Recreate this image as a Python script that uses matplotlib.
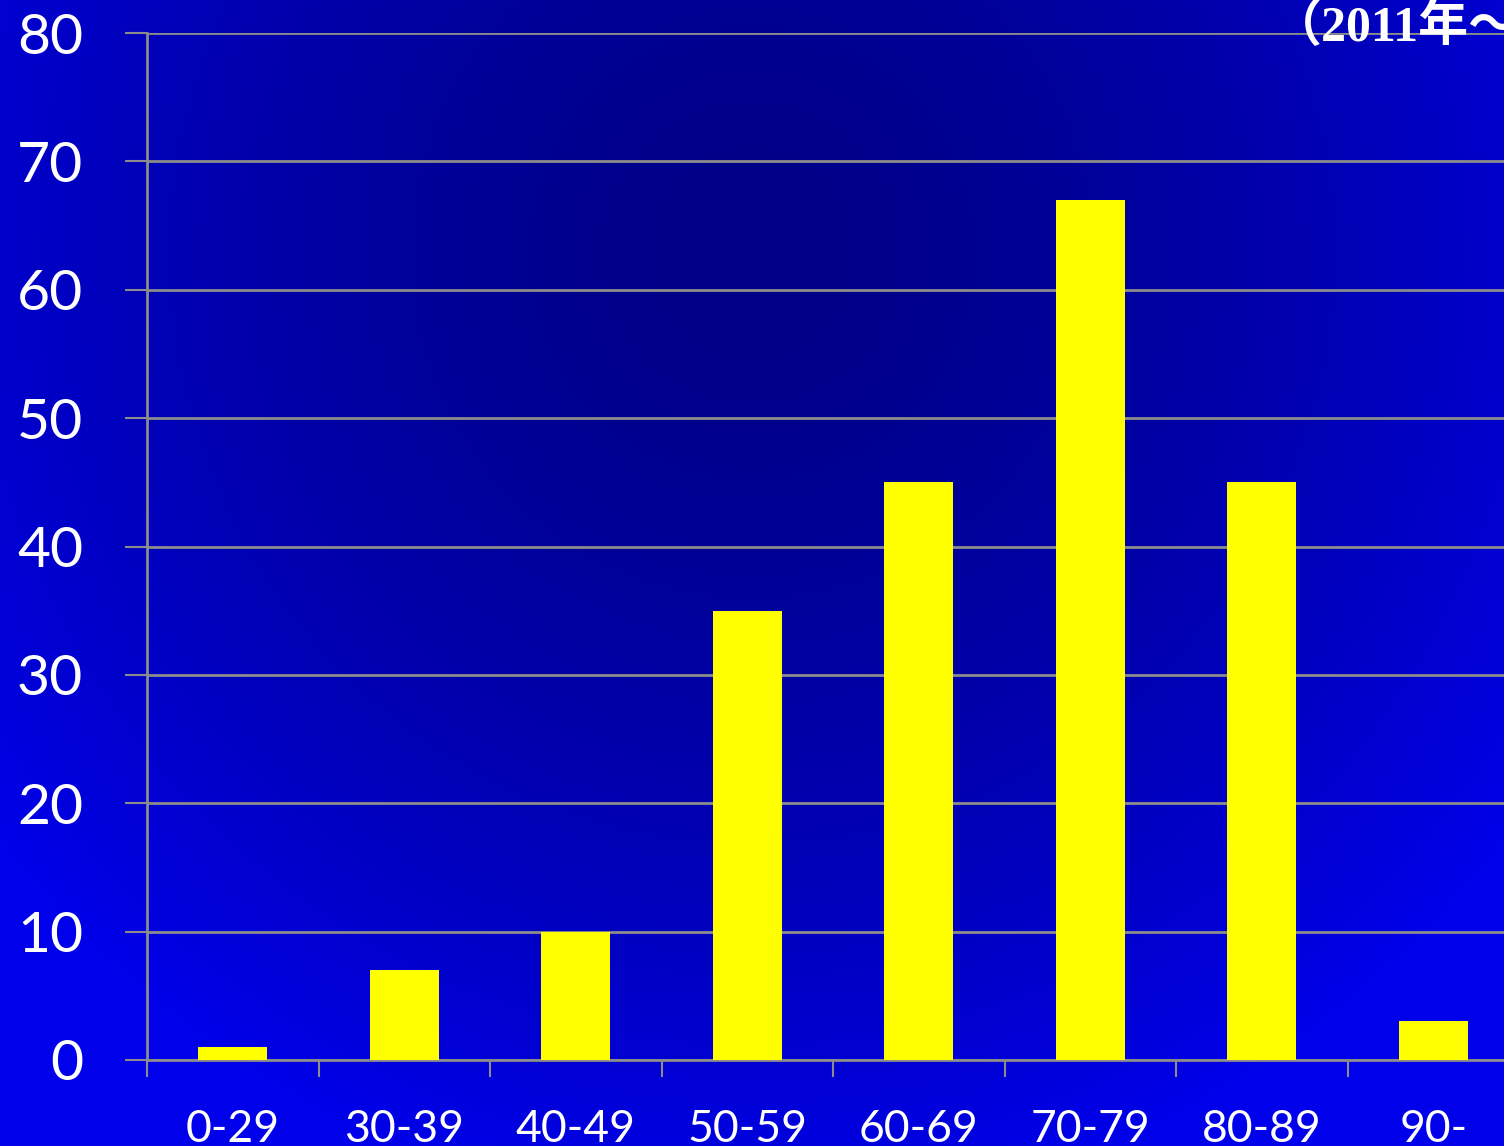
import numpy as np
import matplotlib
matplotlib.use("Agg")
import matplotlib.pyplot as plt

categories = ["0-29", "30-39", "40-49", "50-59", "60-69", "70-79", "80-89", "90-"]
counts = [1, 7, 10, 35, 45, 67, 45, 3]
yticks = [0, 10, 20, 30, 40, 50, 60, 70, 80]
title_text = "（2011年〜"

W, H = 1504, 1146
fig = plt.figure(figsize=(W / 100, H / 100), dpi=100)

# background gradient
bg = fig.add_axes([0, 0, 1, 1], zorder=-10)
yy, xx = np.mgrid[0:1:300j, 0:1:400j]
d = np.sqrt(((xx - 0.5) / 0.75) ** 2 + ((yy - 0.78) / 1.0) ** 2)
d = np.clip(d / 0.85, 0, 1)
blue = 135 + (235 - 135) * d ** 1.6
img = np.zeros(yy.shape + (3,))
img[..., 2] = blue / 255.0
bg.imshow(img, origin="lower", extent=[0, 1, 0, 1], aspect="auto")
bg.set_axis_off()

left = 147 / W
bottom = (H - 1060) / H
width = 8 * 171.5 / W
height = (1060 - 33) / H
ax = fig.add_axes([left, bottom, width, height])
ax.patch.set_alpha(0)

x = np.arange(len(categories))
ax.bar(x, counts, width=0.4, color="#FFFF00", edgecolor="none", zorder=3)

ax.set_xlim(-0.5, len(categories) - 0.5)
ax.set_ylim(0, 80)
ax.set_yticks(yticks)
ax.set_yticklabels([str(v) for v in yticks])
ax.set_xticks(np.arange(len(categories) + 1) - 0.5)
ax.set_xticklabels([])
ax.set_xticks(x, minor=True)
ax.set_xticklabels(categories, minor=True)

gray = "#8C8C8C"
ax.grid(axis="y", color=gray, linewidth=2, zorder=1)
ax.set_axisbelow(True)
for s in ["top", "right"]:
    ax.spines[s].set_visible(False)
for s in ["left", "bottom"]:
    ax.spines[s].set_color(gray)
    ax.spines[s].set_linewidth(2)

font = "Lato"
ax.tick_params(axis="y", which="major", length=16, width=1.5, color=gray,
               labelcolor="white", labelsize=41, pad=30)
ax.tick_params(axis="x", which="major", length=12, width=1.5, color=gray)
ax.tick_params(axis="x", which="minor", length=0, labelcolor="white",
               labelsize=32, pad=35)
for lab in ax.get_yticklabels() + ax.get_xticklabels(minor=True):
    lab.set_fontfamily(font)

fig.text(1272 / W, 1 - 4 / H, title_text, ha="left", va="top", color="white",
         fontsize=36, fontweight="bold",
         family=["Liberation Serif", "Noto Sans CJK JP"])

fig.savefig("out.png", dpi=100)
